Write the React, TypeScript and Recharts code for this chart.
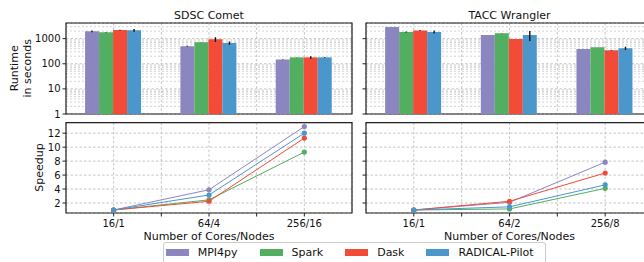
import {
  Bar,
  BarChart,
  CartesianGrid,
  ErrorBar,
  Line,
  LineChart,
  ReferenceArea,
  XAxis,
  YAxis,
} from "recharts"

const cometCores = ["16/1", "64/4", "256/16"]
const wranglerCores = ["16/1", "64/2", "256/8"]

const frameworks = ["MPI4py", "Spark", "Dask", "RADICAL-Pilot"]
const colors = ["#8c86c0", "#52ae60", "#f24c38", "#4b96cb"]

// runtime in seconds, one list per framework (MPI4py, Spark, Dask, RADICAL-Pilot)
const cometRuntime = [
  [1950, 500, 148],
  [1790, 715, 180],
  [2200, 940, 180],
  [2150, 670, 180],
]
const cometRuntimeErr = [
  [150, 20, 5],
  [30, 10, 3],
  [80, 200, 20],
  [280, 100, 5],
]
const cometSpeedup = [
  [1, 3.9, 12.95],
  [1, 2.45, 9.3],
  [1, 2.25, 11.3],
  [1, 3.15, 12.0],
]

const wranglerRuntime = [
  [2900, 1400, 390],
  [1840, 1630, 450],
  [2130, 970, 345],
  [1840, 1400, 415],
]
const wranglerRuntimeErr = [
  [0, 0, 0],
  [80, 30, 0],
  [80, 0, 10],
  [250, 600, 60],
]
const wranglerSpeedup = [
  [1, 2.1, 7.85],
  [1, 1.15, 4.1],
  [1, 2.25, 6.3],
  [1, 1.45, 4.6],
]

const runtimeTicks = [1, 10, 100, 1000]
const speedupTicks = [2, 4, 6, 8, 10, 12]

const gridTicks = [0, 0.5, 1, 1.5, 2]
const xDomain: [number, number] = [-0.5, 2.5]
const logDomain: [number, number] = [1, 4200]
const speedDomain: [number, number] = [0.57, 13.5]

const minorTicks: number[] = []
for (const base of [1, 10, 100, 1000]) {
  for (let m = 2; m <= 9; m++) {
    if (base * m < logDomain[1]) minorTicks.push(base * m)
  }
}

type Row = { idx: number; cores: string; [key: string]: number | string }

function buildRows(cores: string[], runtime: number[][], err: number[][], speedup: number[][]): Row[] {
  return cores.map((c, i) => {
    const row: Row = { idx: i, cores: c }
    frameworks.forEach((_, j) => {
      row[`rt${j}`] = runtime[j][i]
      row[`err${j}`] = err[j][i]
      row[`sp${j}`] = speedup[j][i]
    })
    return row
  })
}

const cometRows = buildRows(cometCores, cometRuntime, cometRuntimeErr, cometSpeedup)
const wranglerRows = buildRows(wranglerCores, wranglerRuntime, wranglerRuntimeErr, wranglerSpeedup)

const font = "'DejaVu Sans', sans-serif"
const gridColor = "#c4c4c4"
const spine = "#222222"

type PanelProps = {
  rows: Row[]
  left: number
  width: number
  yWidth: number
  marginLeft: number
  marginRight: number
  showLabels: boolean
}

function RuntimeChart({ rows, left, width, yWidth, marginLeft, marginRight, showLabels }: PanelProps) {
  return (
    <div style={{ position: "absolute", left, top: 0 }}>
      <BarChart
        width={width}
        height={120}
        data={rows}
        margin={{ top: 23, right: marginRight, bottom: 0, left: marginLeft }}
        barCategoryGap="20%"
        barGap={0}
      >
        <XAxis xAxisId="cat" dataKey="cores" hide />
        <XAxis
          xAxisId="num"
          type="number"
          dataKey="idx"
          domain={xDomain}
          ticks={gridTicks}
          interval={0}
          allowDataOverflow
          tickFormatter={() => ""}
          height={6}
          tickSize={3.5}
          axisLine={false}
          tickLine={{ stroke: spine }}
        />
        <YAxis
          yAxisId="log"
          scale="log"
          domain={logDomain}
          ticks={runtimeTicks}
          interval={0}
          allowDataOverflow
          width={yWidth}
          tickSize={3.5}
          tickMargin={2}
          axisLine={false}
          tickLine={{ stroke: spine }}
          tick={{ fontSize: 10, fill: "#111" }}
          tickFormatter={showLabels ? (v: number) => String(v) : () => ""}
        />
        <YAxis yAxisId="minor" scale="log" domain={logDomain} ticks={minorTicks} interval={0} allowDataOverflow hide />
        <CartesianGrid xAxisId="num" yAxisId="minor" vertical={false} stroke="#d4d4d4" strokeDasharray="2 2" />
        <CartesianGrid xAxisId="num" yAxisId="log" stroke={gridColor} strokeDasharray="2.5 2" />
        {frameworks.map((name, j) => (
          <Bar
            key={name}
            xAxisId="cat"
            yAxisId="log"
            dataKey={`rt${j}`}
            fill={colors[j]}
            isAnimationActive={false}
          >
            <ErrorBar dataKey={`err${j}`} width={0} stroke="#111" strokeWidth={1.4} direction="y" />
          </Bar>
        ))}
        <ReferenceArea
          xAxisId="num"
          yAxisId="log"
          x1={xDomain[0]}
          x2={xDomain[1]}
          y1={logDomain[0]}
          y2={logDomain[1]}
          fill="none"
          stroke={spine}
          strokeWidth={1.2}
        />
      </BarChart>
    </div>
  )
}

function SpeedupChart({ rows, left, width, yWidth, marginLeft, marginRight, showLabels }: PanelProps) {
  return (
    <div style={{ position: "absolute", left, top: 118 }}>
      <LineChart
        width={width}
        height={115}
        data={rows}
        margin={{ top: 4.7, right: marginRight, bottom: 0, left: marginLeft }}
      >
        <CartesianGrid stroke={gridColor} strokeDasharray="2.5 2" />
        <XAxis
          type="number"
          dataKey="idx"
          domain={xDomain}
          ticks={gridTicks}
          interval={0}
          allowDataOverflow
          tickFormatter={(v: number) => (Number.isInteger(v) ? rows[v].cores : "")}
          height={20}
          tickSize={3.5}
          tickMargin={3}
          axisLine={false}
          tickLine={{ stroke: spine }}
          tick={{ fontSize: 10, fill: "#111" }}
        />
        <YAxis
          domain={speedDomain}
          ticks={speedupTicks}
          interval={0}
          allowDataOverflow
          width={yWidth}
          tickSize={3.5}
          tickMargin={2}
          axisLine={false}
          tickLine={{ stroke: spine }}
          tick={{ fontSize: 10, fill: "#111" }}
          tickFormatter={showLabels ? (v: number) => String(v) : () => ""}
        />
        {frameworks.map((name, j) => (
          <Line
            key={name}
            type="linear"
            dataKey={`sp${j}`}
            stroke={colors[j]}
            strokeWidth={1}
            dot={{ r: 2.6, fill: colors[j], stroke: colors[j], strokeWidth: 0 }}
            isAnimationActive={false}
          />
        ))}
        <ReferenceArea
          x1={xDomain[0]}
          x2={xDomain[1]}
          y1={speedDomain[0]}
          y2={speedDomain[1]}
          fill="none"
          stroke={spine}
          strokeWidth={1.2}
        />
      </LineChart>
    </div>
  )
}

const textBase = { position: "absolute" as const, fontSize: 11, color: "#111", whiteSpace: "nowrap" as const }

export default function App() {
  return (
    <div
      style={{
        position: "absolute",
        left: 0,
        top: 0,
        width: 644,
        height: 262,
        overflow: "hidden",
        background: "#fff",
        fontFamily: font,
      }}
    >
      <RuntimeChart rows={cometRows} left={0} width={360} yWidth={36} marginLeft={30} marginRight={8} showLabels />
      <RuntimeChart rows={wranglerRows} left={356} width={300} yWidth={10} marginLeft={0} marginRight={3} showLabels={false} />
      <SpeedupChart rows={cometRows} left={0} width={360} yWidth={36} marginLeft={30} marginRight={8} showLabels />
      <SpeedupChart rows={wranglerRows} left={356} width={300} yWidth={10} marginLeft={0} marginRight={3} showLabels={false} />

      <div style={{ ...textBase, left: 109, width: 200, top: 9, lineHeight: "13px", textAlign: "center" }}>SDSC Comet</div>
      <div style={{ ...textBase, left: 409.5, width: 200, top: 9, lineHeight: "13px", textAlign: "center" }}>TACC Wrangler</div>

      <div
        style={{
          ...textBase,
          left: 21.3 - 50,
          top: 68.5 - 13.3,
          width: 100,
          height: 26.6,
          lineHeight: "13.3px",
          textAlign: "center",
          transform: "rotate(-90deg)",
        }}
      >
        Runtime
        <br />
        in seconds
      </div>
      <div
        style={{
          ...textBase,
          left: 39.2 - 50,
          top: 167.8 - 6.5,
          width: 100,
          height: 13,
          lineHeight: "13px",
          textAlign: "center",
          transform: "rotate(-90deg)",
        }}
      >
        Speedup
      </div>

      <div style={{ ...textBase, left: 109, width: 200, top: 230, lineHeight: "13px", textAlign: "center" }}>
        Number of Cores/Nodes
      </div>
      <div style={{ ...textBase, left: 409.5, width: 200, top: 230, lineHeight: "13px", textAlign: "center" }}>
        Number of Cores/Nodes
      </div>

      <div
        style={{
          position: "absolute",
          left: 163,
          top: 241.7,
          width: 383,
          height: 30,
          border: "1px solid #cccccc",
          borderRadius: 3,
          background: "rgba(255,255,255,0.85)",
          boxSizing: "border-box",
          paddingTop: 3,
          paddingLeft: 1.7,
          display: "flex",
          gap: 22,
        }}
      >
        {frameworks.map((name, j) => (
          <div key={name} style={{ display: "flex", alignItems: "center", height: 14 }}>
            <div style={{ width: 23, height: 7.5, background: colors[j], marginRight: 9 }} />
            <span style={{ fontSize: 11, color: "#111", lineHeight: "14px" }}>{name}</span>
          </div>
        ))}
      </div>
    </div>
  )
}
